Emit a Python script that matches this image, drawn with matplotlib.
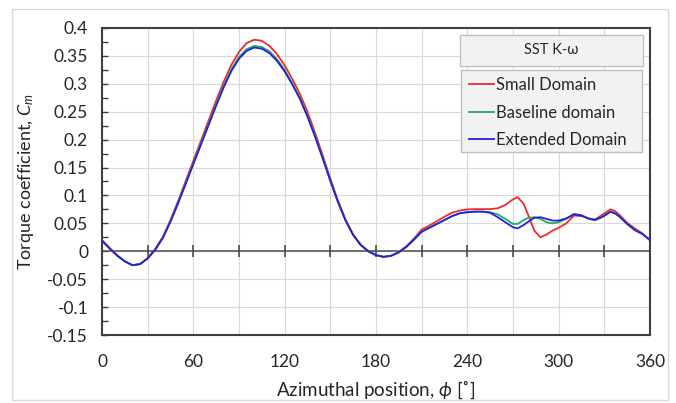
import matplotlib
matplotlib.use("Agg")
import matplotlib.pyplot as plt
from matplotlib.patches import Rectangle
from matplotlib.ticker import MultipleLocator, FuncFormatter

plt.rcParams['font.family'] = ['Lato', 'DejaVu Sans']
plt.rcParams['axes.unicode_minus'] = False
plt.rcParams['mathtext.fontset'] = 'custom'
plt.rcParams['mathtext.rm'] = 'Lato'
plt.rcParams['mathtext.it'] = 'Lato:italic'

phi = [0, 5, 10, 15, 20, 25, 30, 35, 40, 45, 50, 55, 60, 65, 70, 75, 80, 85, 90, 95,
       100, 105, 110, 115, 120, 125, 130, 135, 140, 145, 150, 155, 160, 165, 170, 175,
       180, 185, 190, 195, 200, 205, 210, 215, 220, 225, 230, 235, 240, 245, 250, 255,
       260, 265, 270, 273, 277, 280, 284, 288, 292, 296, 300, 305, 310, 315, 320, 324,
       329, 334, 337, 340, 345, 350, 355, 360]

small_domain = [0.020, 0.006, -0.007, -0.018, -0.025, -0.023, -0.012, 0.004, 0.026, 0.056,
                0.090, 0.126, 0.162, 0.198, 0.234, 0.270, 0.304, 0.334, 0.357, 0.373,
                0.379, 0.377, 0.368, 0.353, 0.333, 0.309, 0.282, 0.250, 0.212, 0.172,
                0.130, 0.091, 0.057, 0.030, 0.012, 0.000,
                -0.007, -0.010, -0.008, -0.001, 0.009, 0.023, 0.039, 0.046, 0.054, 0.062,
                0.069, 0.073, 0.075, 0.0755, 0.0755, 0.0755,
                0.077, 0.083, 0.093, 0.097, 0.085, 0.065, 0.037, 0.025, 0.030, 0.037,
                0.042, 0.050, 0.064, 0.063, 0.059, 0.057,
                0.066, 0.075, 0.072, 0.065, 0.051, 0.041, 0.032, 0.020]

baseline_domain = [0.019, 0.005, -0.008, -0.018, -0.025, -0.023, -0.013, 0.003, 0.024, 0.054,
                   0.087, 0.122, 0.158, 0.193, 0.228, 0.263, 0.297, 0.326, 0.348, 0.362,
                   0.368, 0.366, 0.358, 0.344, 0.325, 0.301, 0.275, 0.243, 0.207, 0.168,
                   0.127, 0.089, 0.055, 0.029, 0.011, 0.000,
                   -0.007, -0.010, -0.008, -0.002, 0.008, 0.021, 0.035, 0.042, 0.049, 0.056,
                   0.063, 0.068, 0.070, 0.071, 0.071, 0.070,
                   0.066, 0.058, 0.049, 0.049, 0.056, 0.060, 0.061, 0.058, 0.052, 0.050,
                   0.052, 0.058, 0.067, 0.065, 0.058, 0.056,
                   0.062, 0.071, 0.068, 0.062, 0.049, 0.038, 0.031, 0.020]

extended_domain = [0.019, 0.005, -0.008, -0.018, -0.025, -0.023, -0.013, 0.003, 0.024, 0.053,
                   0.086, 0.121, 0.156, 0.191, 0.226, 0.261, 0.294, 0.323, 0.345, 0.359,
                   0.365, 0.363, 0.355, 0.341, 0.322, 0.299, 0.273, 0.241, 0.205, 0.166,
                   0.126, 0.088, 0.055, 0.029, 0.011, 0.000,
                   -0.007, -0.010, -0.008, -0.002, 0.008, 0.021, 0.035, 0.042, 0.049, 0.056,
                   0.063, 0.068, 0.070, 0.071, 0.071, 0.069,
                   0.061, 0.052, 0.043, 0.041, 0.047, 0.053, 0.060, 0.061, 0.058, 0.055,
                   0.055, 0.059, 0.066, 0.064, 0.058, 0.056,
                   0.062, 0.0705, 0.068, 0.062, 0.049, 0.038, 0.031, 0.020]

zero_marks = [30, 60, 90, 120, 150, 180, 210, 240, 270, 300, 330]

W, H = 676, 403
fig = plt.figure(figsize=(W / 100, H / 100), dpi=100)
fig.patches.append(Rectangle((12 / W, 1 - 400 / H), (668 - 12) / W, (400 - 9) / H,
                             transform=fig.transFigure, fill=False,
                             edgecolor='#d9d9d9', lw=1.0, zorder=0))

ax = fig.add_axes([102 / W, 1 - 335 / H, (650 - 102) / W, (335 - 28) / H])

ax.plot(phi, small_domain, color='#ee2a2a', lw=1.3, label='Small Domain', zorder=3)
ax.plot(phi, baseline_domain, color='#2aa85a', lw=1.3, label='Baseline domain', zorder=3)
ax.plot(phi, extended_domain, color='#2222dd', lw=1.3, label='Extended Domain', zorder=3)

ax.set_xlim(0, 360)
ax.set_ylim(-0.15, 0.4)

ax.xaxis.set_major_locator(MultipleLocator(60))
ax.xaxis.set_minor_locator(MultipleLocator(30))
ax.yaxis.set_major_locator(MultipleLocator(0.05))
ax.yaxis.set_minor_locator(MultipleLocator(0.025))
ax.yaxis.set_major_formatter(FuncFormatter(lambda v, p: f'{round(v, 3):g}'))
ax.grid(True, which='major', color='#d9d9d9', lw=0.8, zorder=0)
ax.grid(True, which='minor', axis='x', color='#d9d9d9', lw=0.8, zorder=0)
ax.set_axisbelow(True)

ax.tick_params(axis='x', which='both', length=0, pad=14, labelsize=12.5, colors='#262626')
ax.tick_params(axis='y', which='both', direction='in', length=4, width=1,
               color='#404040', pad=10, labelsize=12.5, labelcolor='#262626')
for s in ax.spines.values():
    s.set_color('#404040')
    s.set_linewidth(1.5)

# zero line with tick marks
ax.axhline(0, color='#595959', lw=1.2, zorder=2)
ax.plot(zero_marks, [0] * len(zero_marks), ls='', marker='|', ms=9, mew=1.1,
        color='#404040', zorder=2)

ax.set_ylabel('Torque coefficient, $C_m$', fontsize=13, color='#262626', labelpad=8)
ax.set_xlabel(r'Azimuthal position, $\phi$ [˚]', fontsize=13.5, color='#262626', labelpad=6)

# title box
fig.patches.append(Rectangle((460 / W, 1 - 66 / H), 183 / W, 31 / H,
                             transform=fig.transFigure, facecolor='#f2f2f2',
                             edgecolor='#bfbfbf', lw=1.0, zorder=3))
fig.text(551 / W, 1 - 50.5 / H, 'SST K-ω', ha='center', va='center', fontsize=10.5,
         color='#262626', zorder=6, family=['Lato', 'DejaVu Sans'])
# legend box
fig.patches.append(Rectangle((461 / W, 1 - 152 / H), 181 / W, 82 / H,
                             transform=fig.transFigure, facecolor='#f2f2f2',
                             edgecolor='#bfbfbf', lw=1.0, zorder=3))
h, l = ax.get_legend_handles_labels()
leg = fig.legend(h, l, loc='upper left', bbox_to_anchor=(466 / W, 1 - 74 / H),
                 frameon=False, fontsize=12, handlelength=1.5, handletextpad=0.1,
                 labelspacing=0.68, borderpad=0.2, borderaxespad=0)
leg.set_zorder(6)
for t in leg.get_texts():
    t.set_color('#262626')

fig.savefig('out.png', dpi=100)
